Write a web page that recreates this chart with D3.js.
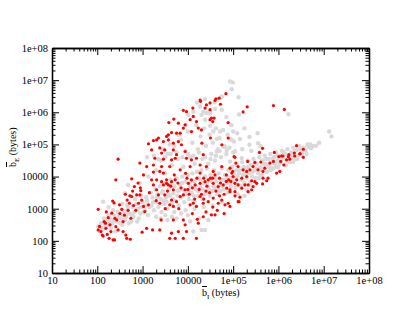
<!DOCTYPE html>
<html>
<head>
<meta charset="utf-8">
<script src="https://cdn.jsdelivr.net/npm/d3@7"></script>
<style>
  body { margin: 0; background: #fff; }
  svg { display: block; }
  .tick text { font-family: "Liberation Serif", "DejaVu Serif", serif; font-size: 10.5px; fill: #000; }
</style>
</head>
<body>
<div id="chart"></div>
<script>
// values are log10(bytes): [b_I, b_E]
const greyPoints = [
  [2.02,2.45],[2.05,2.30],[2.08,2.55],[2.10,2.40],[2.12,2.35],[2.15,2.70],[2.18,2.62],[2.20,2.45],[2.22,2.48],[2.25,2.80],
  [2.28,2.70],[2.30,2.40],[2.33,2.55],[2.35,2.95],[2.38,2.78],[2.40,2.30],[2.42,2.60],[2.45,2.90],[2.48,2.85],[2.50,2.55],
  [2.52,2.70],[2.55,3.15],[2.55,2.50],[2.58,2.80],[2.60,2.92],[2.62,2.65],[2.64,2.75],[2.66,3.10],[2.68,3.02],[2.70,2.55],
  [2.72,2.85],[2.75,2.60],[2.78,3.05],[2.80,2.75],[2.82,2.90],[2.84,3.30],[2.86,3.15],[2.88,2.60],[2.90,3.00],[2.92,2.70],
  [2.95,2.85],[2.97,3.40],[3.00,3.20],[3.02,2.90],[3.05,2.95],[3.08,3.35],[3.10,3.25],[3.12,2.80],[3.15,3.05],[3.18,3.50],
  [2.13,3.22],[2.61,3.48],[2.68,3.74],[2.94,3.79],[3.13,4.00],[2.25,3.05],
  [2.17,2.50],[2.27,2.60],[2.37,2.65],[2.47,2.75],[2.57,2.65],[2.67,2.85],[2.77,2.80],[2.87,2.95],[2.97,3.05],[3.07,3.10],
  [3.20,3.10],[3.22,3.35],[3.25,2.95],[3.28,3.60],[3.30,3.20],[3.33,3.45],[3.35,3.05],[3.38,3.70],[3.40,3.30],[3.42,2.90],
  [3.45,3.55],[3.48,3.15],[3.50,3.80],[3.52,3.35],[3.53,3.22],[3.55,3.00],[3.58,3.60],[3.60,3.40],[3.62,3.90],[3.65,3.15],
  [3.68,3.48],[3.70,3.70],[3.72,3.25],[3.75,3.95],[3.78,3.55],[3.80,3.10],[3.82,3.75],[3.85,3.35],[3.88,4.00],[3.90,3.60],
  [3.92,3.20],[3.95,3.85],[3.98,3.45],[4.00,4.05],[4.02,3.30],[4.05,3.70],[4.08,3.50],[4.10,4.10],[4.12,3.25],[4.15,3.85],
  [4.18,3.60],[4.20,4.15],[4.22,3.40],[4.25,3.95],[4.28,3.65],[4.30,4.20],[4.32,3.30],[4.35,3.80],[4.38,4.00],[4.40,3.50],
  [4.42,4.25],[4.45,3.70],[4.48,3.40],[4.50,4.05],[4.52,3.85],[4.55,3.55],[4.58,4.20],[4.60,3.65],[4.62,3.95],[4.65,3.45],
  [4.68,4.10],[4.70,3.75],[4.72,3.55],[4.75,4.25],[4.78,3.90],[4.80,3.60],[4.82,4.05],[4.85,3.80],[4.88,3.50],[4.90,4.20],
  [4.92,3.95],[4.95,3.70],[4.98,4.30],[3.50,2.80],[3.70,2.90],[3.95,2.95],[4.15,3.00],[4.35,3.05],[4.55,3.10],[4.75,3.20],
  [3.23,3.20],[3.32,3.35],[3.43,3.50],[3.47,3.25],[3.57,3.45],[3.63,3.70],[3.67,3.30],[3.77,3.40],[3.83,3.60],[3.87,3.80],
  [3.93,3.45],[4.03,3.55],[4.07,3.85],[4.13,3.40],[4.17,3.70],[4.23,3.55],[4.27,3.90],[4.33,3.60],[4.37,3.45],[4.43,3.80],
  [4.47,3.60],[4.53,3.95],[4.57,3.70],[4.63,3.85],[4.67,3.60],[4.73,3.90],[4.77,3.70],[4.83,3.90],[4.87,4.00],[4.93,3.80],
  [4.97,3.95],
  [3.30,2.75],[3.40,2.70],[3.55,2.65],[3.65,2.75],[3.75,2.70],[3.85,2.85],[4.00,2.80],[4.45,2.65],
  [4.12,2.29],[4.38,2.34],[4.30,2.34],[4.05,2.60],[4.25,2.70],
  [5.00,3.85],[5.02,4.10],[5.05,3.65],[5.08,4.35],[5.10,4.00],[5.12,3.75],[5.15,4.20],[5.18,3.90],[5.20,4.45],[5.22,4.05],
  [5.25,3.80],[5.28,4.25],[5.30,3.95],[5.32,4.50],[5.35,4.10],[5.38,3.85],[5.40,4.35],[5.42,4.00],[5.45,4.55],[5.48,4.20],
  [5.50,3.95],[5.52,4.40],[5.55,4.10],[5.58,4.60],[5.60,4.30],[5.62,4.05],[5.65,4.50],[5.68,4.25],[5.70,4.65],[5.72,4.40],
  [5.75,4.15],[5.78,4.55],[5.80,4.30],[5.82,4.70],[5.85,4.45],[5.88,4.25],[5.90,4.60],[5.92,4.40],[5.95,4.75],[5.98,4.50],
  [6.00,4.30],[6.03,4.65],[6.05,4.45],[6.08,4.80],[6.10,4.55],[6.13,4.38],[6.15,4.70],[6.18,4.50],[6.20,4.85],[6.23,4.62],
  [6.25,4.45],[6.28,4.75],[6.30,4.58],[6.33,4.90],[6.35,4.68],[6.38,4.55],[6.40,4.82],[6.43,4.65],[6.46,4.95],[6.50,4.78],
  [6.53,4.65],[6.56,4.90],[6.60,4.80],[6.64,5.00],[6.67,4.93],[6.72,4.88],[6.83,4.96],[7.12,5.40],[7.17,5.25],[5.00,4.75],
  [5.19,4.57],[5.04,4.78],[4.93,4.47],[5.10,3.45],[5.30,3.60],[5.25,3.40],
  [5.03,3.95],[5.07,4.20],[5.13,4.10],[5.17,3.70],[5.23,4.30],[5.27,4.10],[5.33,4.30],[5.37,3.75],[5.43,4.15],[5.47,4.40],
  [5.53,4.25],[5.57,3.95],[5.63,4.20],[5.67,4.40],[5.73,4.55],[5.77,4.35],[5.83,4.20],[5.87,4.55],[5.93,4.30],[5.97,4.65],
  [6.02,4.40],[6.07,4.60],[6.12,4.75],[6.17,4.35],[6.22,4.55],[6.27,4.65],[6.32,4.45],[6.37,4.80],[6.42,4.55],[6.48,4.88],
  [6.52,4.72],[6.58,4.85],[6.62,4.70],[6.70,5.00],[6.76,4.95],[6.90,5.05],
  [3.10,4.60],[3.25,4.65],[3.35,4.55],[3.50,4.60],[3.62,4.70],[3.75,4.75],[3.88,4.60],[4.00,4.70],[4.12,4.65],[4.25,4.75],
  [4.38,4.60],[4.50,4.55],[4.62,4.65],[4.70,4.80],
  [3.30,4.20],[3.40,4.50],[3.50,4.10],[3.55,4.70],[3.65,4.35],[3.70,4.95],[3.78,4.55],[3.85,5.15],[3.90,4.30],[3.95,4.80],
  [4.00,5.40],[4.05,4.60],[4.10,5.05],[4.15,4.40],[4.18,5.60],[4.22,4.85],[4.28,5.25],[4.32,4.55],[4.36,5.50],[4.40,4.95],
  [4.45,4.40],[4.48,5.30],[4.52,4.70],[4.55,5.05],[4.60,4.50],[4.62,5.50],[4.66,4.85],[4.70,5.20],[4.73,4.60],[4.78,5.45],
  [4.80,4.95],[4.85,4.70],[4.88,5.30],[4.92,4.90],[4.96,5.60],[4.93,6.96],[4.99,6.93],[4.97,6.72],[5.12,6.47],[4.74,6.47],
  [4.59,6.31],[4.75,6.08],[5.13,5.93],[6.22,5.94],[5.00,5.40],[5.09,5.35],[5.36,5.23],[5.54,5.35],[5.55,5.04],[5.36,4.99],
  [5.15,5.17],[4.94,5.17],[5.02,5.09],[4.86,4.81],[4.78,4.93],[4.64,5.17],[4.56,5.40],[4.49,5.58],[4.38,5.77],[4.30,5.92],
  [4.41,5.98],[4.49,6.02],[4.75,6.49],[4.38,6.41],[4.27,6.18],[4.12,6.02],[4.01,5.92],[4.34,6.02],[4.49,5.97],[4.71,5.40],
  [4.97,5.14],[4.82,4.93],[4.64,4.78],[5.04,4.78],[3.60,5.00],[3.80,5.30],[3.45,4.85],[3.95,5.60],[4.20,6.30],[4.60,6.10],
  [4.85,5.85],[5.25,5.50],[5.40,4.80],[5.20,4.85],[5.60,4.95]
];

const redPoints = [
  [2.02,2.98],[2.02,2.34],[2.08,2.29],[2.11,2.18],[2.15,2.60],[2.19,2.39],[2.24,2.72],[2.26,2.08],[2.30,2.29],[2.34,3.24],
  [2.37,3.18],[2.38,2.03],[2.32,2.86],[2.39,2.70],[2.43,2.65],[2.41,2.44],[2.46,2.34],[2.49,3.12],[2.54,2.98],[2.57,2.29],
  [2.63,2.18],[2.65,2.08],[2.57,2.60],[2.66,3.27],[2.71,3.17],[2.72,3.40],[2.74,2.70],[2.73,2.05],[2.76,3.38],[2.78,3.55],
  [2.82,3.69],[2.87,3.43],[2.91,3.17],[2.94,3.43],[2.96,3.56],[2.98,3.27],[3.02,3.07],[2.99,2.27],[3.05,2.91],[2.41,3.90],
  [2.76,3.93],[2.13,2.15],[2.35,2.03],[2.46,4.54],[2.05,2.45],[2.18,2.55],[2.28,2.50],[2.22,2.20],[2.50,2.85],[2.60,2.80],
  [2.68,2.95],[2.85,2.95],[2.80,3.10],[2.62,3.45],[2.90,3.80],[2.95,3.65],[2.20,2.90],
  [3.13,3.12],[3.09,2.39],[3.22,2.34],[3.31,3.59],[3.35,3.43],[3.38,2.34],[3.42,3.84],[3.46,3.74],[3.38,3.17],[3.53,3.79],
  [3.20,3.90],[3.24,3.74],[3.38,4.16],[3.46,4.11],[3.24,4.14],[3.53,3.90],[3.57,3.74],[3.64,3.84],[3.72,3.90],[3.68,3.59],
  [3.49,3.43],[3.64,3.27],[3.60,3.12],[3.68,3.07],[3.75,3.22],[3.83,3.38],[3.90,3.43],[3.94,3.59],[4.01,3.79],[4.08,3.90],
  [4.16,3.74],[4.27,3.79],[4.38,3.84],[4.45,3.90],[4.56,3.79],[4.67,3.69],[4.78,3.74],[4.86,3.64],[4.93,3.59],[5.04,3.79],
  [5.11,3.22],[4.27,3.38],[4.34,3.17],[4.45,3.22],[4.56,3.33],[4.67,3.17],[4.75,3.27],[4.82,3.12],[4.93,3.07],[4.05,3.12],
  [4.12,3.17],[4.19,3.07],[4.21,2.67],[4.23,2.55],[3.90,2.65],[3.94,2.50],[3.97,2.29],[3.79,2.29],[3.72,2.08],[3.60,2.08],
  [3.90,2.08],[3.41,2.65],[3.68,2.65],[3.64,2.24],[4.19,2.08],
  [4.40,3.55],[4.62,3.55],[4.80,3.45],[4.50,3.95],[4.70,3.95],[4.85,4.05],[4.20,3.95],[4.00,3.60],[4.30,3.45],[4.15,3.30],
  [4.95,3.85],[4.65,2.95],[4.40,2.90],[4.10,2.85],[4.80,2.85],
  [3.55,3.55],[3.62,3.70],[3.78,3.80],[3.85,3.65],[3.98,3.95],[4.03,3.45],[4.10,3.65],[4.25,3.60],[4.35,3.95],[4.42,3.70],
  [4.48,3.50],[4.55,3.95],[4.60,4.05],[4.72,3.80],[4.85,3.85],[4.90,3.90],[5.00,4.00],[4.70,3.40],[4.55,3.05],[4.35,3.30],
  [3.80,3.00],[3.50,3.00],[3.30,3.25],[3.15,3.50],[3.70,4.05],[3.95,4.10],
  [4.84,6.58],[4.69,6.44],[4.72,6.25],[4.60,6.37],[4.49,6.29],[4.41,6.23],[4.38,6.13],[4.28,6.34],[4.11,6.13],[3.97,6.02],
  [3.90,6.06],[3.69,5.79],[3.58,5.68],[3.79,5.66],[3.94,5.61],[4.05,5.77],[4.12,5.87],[4.19,5.71],[4.23,5.51],[4.30,5.45],
  [4.49,5.77],[4.55,5.71],[4.58,5.82],[4.89,5.68],[4.50,5.20],[4.08,5.40],[3.90,5.51],[3.83,5.35],[3.64,5.37],[3.57,5.30],
  [3.31,5.14],[3.24,5.12],[3.46,5.09],[3.57,5.14],[3.68,5.04],[3.79,5.09],[3.86,4.99],[3.38,4.89],[3.49,4.83],[3.68,4.83],
  [3.20,4.83],[3.42,4.73],[3.75,4.68],[3.94,4.78],[3.27,4.57],[3.46,4.54],[3.64,4.52],[3.97,4.57],[4.08,4.52],[4.19,4.57],
  [4.27,4.36],[4.41,4.31],[4.56,4.16],[4.75,4.31],[4.93,4.26],[5.04,4.60],[3.60,4.31],[3.42,4.31],[3.24,4.36],[3.83,4.21],
  [4.05,4.31],[4.27,4.11],[4.89,5.20],[4.75,4.99],[2.94,4.42],[3.09,4.31],[3.02,4.05],[3.31,3.90],[3.72,4.57],[4.34,4.68],
  [3.13,5.02],[3.35,5.20],[3.53,5.25],[3.75,5.35],[5.89,6.21],[6.13,6.09],[5.31,6.17],[5.22,6.01],[4.31,5.04],[4.62,6.42],
  [4.27,6.38],[4.52,5.82],[4.49,6.08],
  [5.65,4.88],[5.58,4.75],[5.91,4.75],[5.02,4.62],[5.06,4.42],[5.32,4.47],[5.48,4.44],[5.61,4.45],[5.81,4.42],[6.01,4.62],
  [6.10,4.64],[6.05,4.47],[6.12,4.36],[6.18,4.52],[6.25,4.54],[6.36,4.64],[6.23,4.68],[5.89,4.47],[5.70,4.26],[5.66,4.16],
  [5.55,4.21],[5.44,4.31],[5.37,4.21],[5.30,4.16],[5.22,4.21],[5.11,4.31],[4.99,4.16],[4.97,4.11],[5.77,3.95],[5.74,3.87],
  [5.65,3.77],[5.48,3.84],[5.41,3.87],[5.30,4.00],[5.19,3.95],[5.08,3.90],[5.44,3.69],[5.26,3.74],[5.19,3.64],[5.11,3.74],
  [5.04,3.53],[4.93,3.53],[5.41,3.59],[5.33,3.53],[5.15,3.36],[5.04,3.40],[5.13,3.22],[6.03,4.16],[6.40,4.96],[6.55,4.85],
  [6.55,4.60],[6.48,4.71],[6.35,4.73],[6.07,4.64],[6.22,4.62],[6.47,4.71],[5.96,4.11],[5.66,3.95],[5.52,3.79],[5.33,3.74],
  [4.89,3.17],[4.60,2.81],[4.52,2.81],[4.34,2.75]
];

const decades = [10, 100, 1000, 10000, 1e5, 1e6, 1e7, 1e8];
const tickLabels = ["10", "100", "1000", "10000", "1e+05", "1e+06", "1e+07", "1e+08"];

const W = 415, H = 321;
const plotLeft = 52, plotRight = 369, plotTop = 48, plotBottom = 273;

const svg = d3.select("#chart").append("svg")
  .attr("width", W)
  .attr("height", H);

const x = d3.scaleLog().domain([10, 1e8]).range([plotLeft, plotRight]);
const y = d3.scaleLog().domain([10, 1e8]).range([plotBottom, plotTop]);

const fmt = v => tickLabels[decades.indexOf(v)];

// points
svg.append("g")
  .selectAll("circle")
  .data(greyPoints)
  .join("circle")
    .attr("cx", d => x(10 ** d[0]))
    .attr("cy", d => y(10 ** d[1]))
    .attr("r", 2.2)
    .attr("fill", "#d9d9d9");

svg.append("g")
  .selectAll("circle")
  .data(redPoints)
  .join("circle")
    .attr("cx", d => x(10 ** d[0]))
    .attr("cy", d => y(10 ** d[1]))
    .attr("r", 1.6)
    .attr("fill", "#ff0000");

// axes: ticks point inward on all four sides
function drawAxis(axisFn, scale, pos, labels) {
  const minorVals = scale.ticks().filter(v => !decades.includes(v));
  const major = axisFn(scale).tickValues(decades).tickSizeInner(-7).tickSizeOuter(0)
    .tickPadding(labels ? 4 : 0).tickFormat(labels ? fmt : () => "");
  const minor = axisFn(scale).tickValues(minorVals).tickSizeInner(-3.5).tickSizeOuter(0)
    .tickFormat(() => "");
  const g = svg.append("g").attr("transform", pos);
  g.append("g").call(minor);
  g.append("g").call(major);
  g.selectAll("line").attr("stroke", "#000").attr("stroke-width", 1);
  g.selectAll(".domain").attr("stroke", "#000").attr("stroke-width", 1.3);
  return g;
}

drawAxis(d3.axisBottom, x, `translate(0,${plotBottom})`, true);
drawAxis(d3.axisTop, x, `translate(0,${plotTop})`, false);
drawAxis(d3.axisLeft, y, `translate(${plotLeft},0)`, true);
drawAxis(d3.axisRight, y, `translate(${plotRight},0)`, false);

// axis titles
const serif = "'Liberation Serif', 'DejaVu Serif', serif";

const xt = svg.append("text")
  .attr("x", 202)
  .attr("y", 296)
  .attr("font-family", serif)
  .attr("font-size", 10)
  .attr("fill", "#000");
xt.append("tspan").text("b").style("text-decoration", "overline");
xt.append("tspan").attr("dy", 3).attr("font-size", 7).text("I");
xt.append("tspan").attr("dy", -3).text(" (bytes)");

const yt = svg.append("text")
  .attr("transform", "translate(16,167) rotate(-90)")
  .attr("font-family", serif)
  .attr("font-size", 10)
  .attr("fill", "#000");
yt.append("tspan").text("b").style("text-decoration", "overline");
yt.append("tspan").attr("dy", 3).attr("font-size", 7).text("E");
yt.append("tspan").attr("dy", -3).text(" (bytes)");
</script>
</body>
</html>
